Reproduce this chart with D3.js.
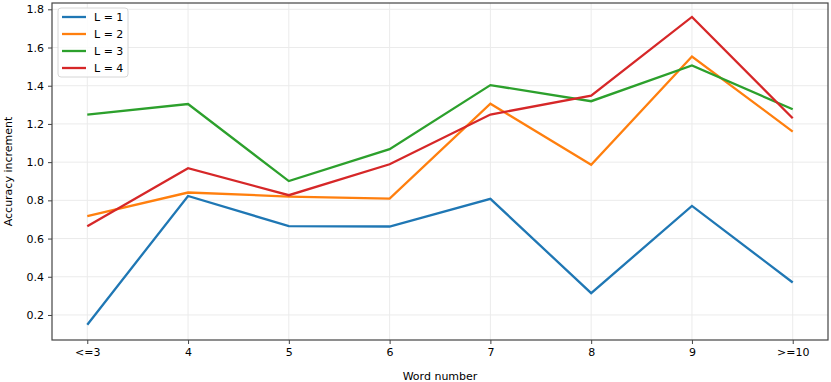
<!DOCTYPE html>
<html>
<head>
<meta charset="utf-8">
<script src="https://cdn.jsdelivr.net/npm/d3@7"></script>
<style>
  body { margin: 0; background: #fff; }
  text { font-family: "DejaVu Sans", sans-serif; }
</style>
</head>
<body>
<svg id="chart" width="831" height="382"></svg>
<script>
// categories along the x axis
const wordBins = ["<=3", "4", "5", "6", "7", "8", "9", ">=10"];
const seriesNames = ["L = 1", "L = 2", "L = 3", "L = 4"];
const seriesColors = ["#1f77b4", "#ff7f0e", "#2ca02c", "#d62728"];

// accuracy increment per series
const l1 = [0.149, 0.823, 0.665, 0.663, 0.808, 0.314, 0.771, 0.37];
const l2 = [0.718, 0.841, 0.82, 0.809, 1.306, 0.986, 1.553, 1.16];
const l3 = [1.249, 1.304, 0.901, 1.068, 1.403, 1.319, 1.506, 1.277];
const l4 = [0.665, 0.968, 0.827, 0.989, 1.249, 1.348, 1.76, 1.23];

const yTicks = [0.2, 0.4, 0.6, 0.8, 1.0, 1.2, 1.4, 1.6, 1.8];

const series = [l1, l2, l3, l4];

const margin = {left: 52, right: 3, top: 3, bottom: 42};
const width = 831, height = 382;
const svg = d3.select("#chart");

const x = d3.scaleLinear()
  .domain([-0.35, wordBins.length - 1 + 0.35])
  .range([margin.left, width - margin.right]);

const y = d3.scaleLinear()
  .domain([0.069, 1.833])
  .range([height - margin.bottom, margin.top]);

// grid
const grid = svg.append("g");
grid.selectAll(".gx")
  .data(wordBins.map((d, i) => i))
  .enter().append("line")
  .attr("x1", d => x(d)).attr("x2", d => x(d))
  .attr("y1", y.range()[0]).attr("y2", y.range()[1])
  .attr("stroke", "#ebebeb").attr("stroke-width", 1);
grid.selectAll(".gy")
  .data(yTicks)
  .enter().append("line")
  .attr("x1", x.range()[0]).attr("x2", x.range()[1])
  .attr("y1", d => y(d)).attr("y2", d => y(d))
  .attr("stroke", "#ebebeb").attr("stroke-width", 1);

// lines
const line = d3.line()
  .x((d, i) => x(i))
  .y(d => y(d));

svg.selectAll(".series")
  .data(series)
  .enter().append("path")
  .attr("d", line)
  .attr("fill", "none")
  .attr("stroke", (d, i) => seriesColors[i])
  .attr("stroke-width", 2.3)
  .attr("stroke-linejoin", "miter");

// frame
svg.append("rect")
  .attr("x", x.range()[0]).attr("y", y.range()[1])
  .attr("width", x.range()[1] - x.range()[0])
  .attr("height", y.range()[0] - y.range()[1])
  .attr("fill", "none")
  .attr("stroke", "#444")
  .attr("stroke-width", 1.2);

// axes
const xAxis = d3.axisBottom(x)
  .tickValues(wordBins.map((d, i) => i))
  .tickFormat(i => wordBins[i])
  .tickSize(4)
  .tickPadding(4);
const gx = svg.append("g")
  .attr("transform", `translate(0,${y.range()[0]})`)
  .call(xAxis);

const yAxis = d3.axisLeft(y)
  .tickValues(yTicks)
  .tickFormat(d3.format(".1f"))
  .tickSize(4)
  .tickPadding(4);
const gy = svg.append("g")
  .attr("transform", `translate(${x.range()[0]},0)`)
  .call(yAxis);

[gx, gy].forEach(g => {
  g.select(".domain").remove();
  g.selectAll(".tick line").attr("stroke", "#444");
  g.selectAll(".tick text")
    .attr("font-family", "DejaVu Sans")
    .attr("font-size", 11)
    .attr("fill", "#000");
});

// axis labels
svg.append("text")
  .attr("x", (x.range()[0] + x.range()[1]) / 2)
  .attr("y", 380)
  .attr("text-anchor", "middle")
  .attr("font-size", 11)
  .text("Word number");

svg.append("text")
  .attr("transform", `translate(12,${(y.range()[0] + y.range()[1]) / 2}) rotate(-90)`)
  .attr("text-anchor", "middle")
  .attr("font-size", 11)
  .text("Accuracy increment");

// legend
const legend = svg.append("g").attr("transform", "translate(58,8)");
legend.append("rect")
  .attr("width", 70).attr("height", 69)
  .attr("rx", 3).attr("ry", 3)
  .attr("fill", "#fff").attr("fill-opacity", 0.85)
  .attr("stroke", "#d6d6d6");

const items = legend.selectAll(".item")
  .data(seriesNames)
  .enter().append("g")
  .attr("transform", (d, i) => `translate(0,${9 + i * 17})`);
items.append("line")
  .attr("x1", 4).attr("x2", 28)
  .attr("stroke", (d, i) => seriesColors[i])
  .attr("stroke-width", 2.3);
items.append("text")
  .attr("x", 36).attr("y", 4)
  .attr("font-size", 11)
  .text(d => d);
</script>
</body>
</html>
